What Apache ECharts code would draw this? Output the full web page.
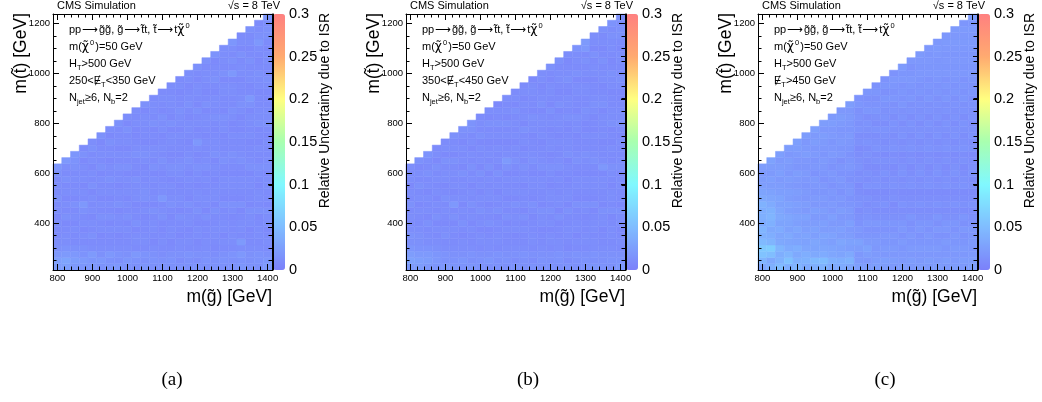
<!DOCTYPE html>
<html>
<head>
<meta charset="utf-8">
<title>ISR uncertainty</title>
<script src="https://cdn.jsdelivr.net/npm/echarts@6/dist/echarts.min.js"></script>
<style>
  html, body { margin: 0; padding: 0; background: #fff; }
  #chart { width: 1042px; height: 402px; }
</style>
</head>
<body>
<div id="chart"></div>
<script>
// Gluino mass bins (GeV), one per column
const mGluino = [800, 825, 850, 875, 900, 925, 950, 975, 1000, 1025, 1050, 1075, 1100,
  1125, 1150, 1175, 1200, 1225, 1250, 1275, 1300, 1325, 1350, 1375, 1400];
// Stop mass bins (GeV), bottom row first
const mStop = [225, 250, 275, 300, 325, 350, 375, 400, 425, 450, 475, 500, 525, 550, 575,
  600, 625, 650, 675, 700, 725, 750, 775, 800, 825, 850, 875, 900, 925, 950, 975, 1000,
  1025, 1050, 1075, 1100, 1125, 1150, 1175, 1200, 1225];

// Relative ISR uncertainty. One string per gluino column, read from the lowest stop
// mass upward; each character is a base-36 digit in units of 0.002 (spaces ignored).
const isrLowMET = [
  "cda76 55646 57565 79",
  "dfb86 65475 64657 56a",
  "bca75 56465 74656 5789",
  "9b875 64657 a5646 56475",
  "a9b65 75646 56475 64657 6",
  "8a765 46575 64656 47565 47",
  "98a65 56475 64657 56465 746",
  "a7865 46564 75646 57564 6557",
  "89765 56475 64656 47564 65746",
  "78a56 64755 46667 45576 54465 6",
  "97856 65546 47765 54676 45566 47",
  "78764 56657 46556 47566 45475 665",
  "87656 54476 5a665 46756 54667 4565",
  "78754 66545 76564 67545 66474 56656",
  "86766 45574 66545 67645 56466 75546 5",
  "77856 54665 74556 46765 45664 57654 66",
  "86754 66457 56645 67546 a5465 74566 457",
  "78766 55474 66556 47655 64566 47545 6657",
  "87645 66557 46654 56476 65457 56645 76548",
  "78756 46655 74566 45765 54667 45566 47566 6",
  "87856 65546 74566 45675 56446 75566 4a575 69",
  "98a6b 56654 74566 45765 56454 67655 46657 465",
  "87765 54667 45566 47655 46566 47a54 66575 4657",
  "78865 66547 56645 67556 45476 65546 67545 6a765",
  "a9756 54667 45566 47655 64576 65446 75566 45776 9"
];
const isrMidMET = [
  "bec97 86565 75646 56",
  "cdb87 76556 46575 647",
  "acb86 65746 56465 7568",
  "9a976 56475 64656 57465",
  "a8865 76456 57546 65746 5",
  "98765 56475 a6465 65746 57",
  "89766 45756 46565 74656 467",
  "97865 56465 75646 57564 6578",
  "88756 64657 56465 74656 47565",
  "79766 54756 46656 47565 46574 6",
  "87856 65647 56465 74656 46575 64",
  "78765 56475 64656 47b65 46574 656",
  "86765 46565 74656 45756 46565 7465",
  "77865 56474 65646 57564 65746 56465",
  "86756 65546 74566 45765 54667 45566 4",
  "78765 54667 45566 47655 46566 47654 66",
  "87756 64657 56645 67546 65465 74566 457",
  "78866 55474 66556 47655 64566 47545 6657",
  "86745 66557 46654 56476 65457 56645 76546",
  "77856 46655 74566 45765 54667 45566 47566 8",
  "88756 65546 74566 45675 56446 75566 46575 ab",
  "97866 56654 74566 45765 56454 67655 46657 466",
  "87765 54667 45566 4a655 46566 47654 66575 4657",
  "78765 66547 56645 67556 45476 65546 67545 66768",
  "a8756 54667 45566 47655 64576 65446 75566 45776 7"
];
const isrHighMET = [
  "gmsuo kmikj lhfdc bc",
  "khqwm jhkml igecd bce",
  "pljmh gifhg efdcb dcbd",
  "jrmig hefgd ecdbc abcac",
  "mkhjf egdec dbcab c9abc d",
  "iljge fdceb cab9a b9acb ac",
  "kohfg decbd ab9ab 8a9ba cbd",
  "lpige fcdbc ab9a8 9ab9a bcac",
  "hkgfd ecbda b9a89 a89ba 9bacb",
  "ijfeg cdbac 9a89a 897a9 ba9bc a",
  "glhde cbdab 98a97 8a989 ab9ab ac",
  "dbace 9a876 87657 68765 76878 798",
  "caceb 98a87 67586 75676 86786 9879",
  "dcbab 98a76 76587 65768 76867 98798",
  "cdab9 a8976 86576 86757 67868 78979 8",
  "bcab9 a8976 57687 65768 76786 87989 a8",
  "cba9b 8a976 86576 87657 68768 79898 a9b",
  "bcab9 a8796 76587 65768 76786 87989 a98a",
  "cbab9 8a976 86576 87657 68768 78798 9a9ab",
  "bcab9 a8976 76587 65768 76786 87989 8a9a9 a",
  "cbab9 8a796 86576 87657 68768 78798 9a99a ba",
  "bca9b 8a976 76587 65768 76786 87989 8a9a9 aba",
  "cbab9 a8976 86576 87657 68768 78798 9a9a9 abab",
  "bcab9 8a796 76587 65768 76786 87989 8a9a9 abab9",
  "dcbab 9a876 86576 87657 68768 78798 9a9a9 abab9 c"
];

// Tick labels
const xMajorTicks = [800, 900, 1000, 1100, 1200, 1300, 1400];
const yMajorTicks = [400, 600, 800, 1000, 1200];

// Selection texts for the three panels
const metSelections = ['{n|250<Ɇ}{b|T}{n|<350 GeV}', '{n|350<Ɇ}{b|T}{n|<450 GeV}', '{n|Ɇ}{b|T}{n|>450 GeV}'];
const captions = ['(a)', '(b)', '(c)'];
const panelColumns = [isrLowMET, isrMidMET, isrHighMET];

// ---- layout ----
const FONT = '"Liberation Sans", Arial, Helvetica, sans-serif';
const SERIF = '"Liberation Serif", "DejaVu Serif", serif';
const FRAME_TOP = 14, FRAME_W = 219, FRAME_H = 256, BAR_W = 12;
const panelLeft = [53, 406, 758];
const captionX = [172, 528, 885];
const PALETTE = ['#7c80fa', '#80bcff', '#80f8ff', '#a8ffb0', '#ffff80', '#ffaa70', '#ff8080'];

const BIN = mGluino[1] - mGluino[0];
const X_MIN = mGluino[0] - BIN / 2, X_MAX = mGluino[mGluino.length - 1] + BIN / 2;
const Y_MIN = mStop[0] - BIN / 2, Y_MAX = mStop[mStop.length - 1] + BIN / 2;

const xMinorTicks = [], yMinorTicks = [];
for (let v = 800; v <= 1400; v += 20) if (v % 100) xMinorTicks.push(v);
for (let v = 250; v <= 1200; v += 50) if (v % 200) yMinorTicks.push(v);

function decodeColumn(str) {
  return str.replace(/ /g, '').split('').map(c => parseInt(c, 36) * 0.002);
}
function cellsFor(columns) {
  const out = [];
  columns.forEach((col, i) => {
    decodeColumn(col).forEach((v, j) => out.push([mGluino[i], mStop[j], v]));
  });
  return out;
}

function renderCell(params, api) {
  const x = api.value(0), y = api.value(1);
  const a = api.coord([x - BIN / 2, y + BIN / 2]);
  const b = api.coord([x + BIN / 2, y - BIN / 2]);
  const color = api.visual('color');
  return {
    type: 'rect',
    shape: { x: a[0], y: a[1], width: b[0] - a[0], height: b[1] - a[1] },
    style: { fill: color, stroke: color, lineWidth: 0.5 }
  };
}

function tickAxis(gridIndex, position, min, max, values, length, withLine, withLabels) {
  return {
    type: 'value', gridIndex, position, min, max, z: 5,
    splitLine: { show: false },
    axisLine: { show: withLine, onZero: false, lineStyle: { color: '#000', width: 1 } },
    axisTick: { show: true, inside: true, length, customValues: values,
      lineStyle: { color: '#000', width: 1 } },
    axisLabel: withLabels ? {
      show: true, customValues: values, margin: 3, color: '#000',
      fontFamily: FONT, fontSize: 9.5, formatter: v => String(v)
    } : { show: false }
  };
}

const grids = [], xAxes = [], yAxes = [], series = [], visualMaps = [], graphics = [];
const rich = {
  n: { fontFamily: FONT, fontSize: 11, lineHeight: 16, color: '#000' },
  c: { fontFamily: '"DejaVu Sans", sans-serif', fontSize: 12.5, lineHeight: 16, color: '#000' },
  a: { fontFamily: '"DejaVu Sans", sans-serif', fontSize: 11, lineHeight: 16, color: '#000',
       padding: [0, 1, 0, 1] },
  p: { fontFamily: FONT, fontSize: 7.5, lineHeight: 8, verticalAlign: 'top', color: '#000',
       padding: [0, 1, 0, 1] },
  b: { fontFamily: FONT, fontSize: 7.5, lineHeight: 8, verticalAlign: 'bottom', color: '#000' }
};

panelLeft.forEach((left, p) => {
  grids.push({ left, top: FRAME_TOP, width: FRAME_W, height: FRAME_H });
  xAxes.push(tickAxis(p, 'bottom', X_MIN, X_MAX, xMajorTicks, 6, true, true));
  xAxes.push(tickAxis(p, 'bottom', X_MIN, X_MAX, xMinorTicks, 3.5, false, false));
  xAxes.push(tickAxis(p, 'top', X_MIN, X_MAX, xMajorTicks, 6, true, false));
  xAxes.push(tickAxis(p, 'top', X_MIN, X_MAX, xMinorTicks, 3.5, false, false));
  yAxes.push(tickAxis(p, 'left', Y_MIN, Y_MAX, yMajorTicks, 6, true, true));
  yAxes.push(tickAxis(p, 'left', Y_MIN, Y_MAX, yMinorTicks, 3.5, false, false));
  yAxes.push(tickAxis(p, 'right', Y_MIN, Y_MAX, yMajorTicks, 6, true, false));
  yAxes.push(tickAxis(p, 'right', Y_MIN, Y_MAX, yMinorTicks, 3.5, false, false));

  series.push({
    type: 'custom', coordinateSystem: 'cartesian2d',
    xAxisIndex: 4 * p, yAxisIndex: 4 * p,
    data: cellsFor(panelColumns[p]),
    encode: { x: 0, y: 1 },
    renderItem: renderCell, clip: false, silent: true, z: 2
  });

  visualMaps.push({
    type: 'continuous', seriesIndex: p, dimension: 2, min: 0, max: 0.3,
    inRange: { color: PALETTE }, orient: 'vertical',
    left: left + FRAME_W + 1, top: FRAME_TOP, itemWidth: BAR_W, itemHeight: FRAME_H,
    padding: 0, calculable: false, hoverLink: false, show: true
  });

  const right = left + FRAME_W;
  graphics.push(
    { type: 'text', x: left + 4, y: 5.5, style: { text: 'CMS Simulation', font: '11px ' + FONT,
      fill: '#000', textAlign: 'left', textVerticalAlign: 'middle' } },
    { type: 'text', x: left + 227, y: 5.5, style: { text: '√s = 8 TeV', font: '11px ' + FONT,
      fill: '#000', textAlign: 'right', textVerticalAlign: 'middle' } },
    { type: 'text', x: right, y: 297, style: { text: 'm(g\u0303) [GeV]', font: '17.5px ' + FONT,
      fill: '#000', textAlign: 'right', textVerticalAlign: 'middle' } },
    { type: 'text', x: left - 31.5, y: 13, rotation: Math.PI / 2, style: { text: 'm(t\u0303) [GeV]',
      font: '17.5px ' + FONT, fill: '#000', textAlign: 'right', textVerticalAlign: 'middle' } },
    { type: 'text', x: left + 272.5, y: 13, rotation: Math.PI / 2, style: {
      text: 'Relative Uncertainty due to ISR', font: '14px ' + FONT, fill: '#000',
      textAlign: 'right', textVerticalAlign: 'middle' } },
    { type: 'text', x: captionX[p], y: 380, style: { text: captions[p], font: '19px ' + SERIF,
      fill: '#000', textAlign: 'center', textVerticalAlign: 'middle' } }
  );
  const lines = [
    '{n|pp}{a|⟶}{n|g\u0303g\u0303, g\u0303}{a|⟶}{n|t\u0303t, t\u0303}{a|⟶}{n|t}{c|χ\u0303}{p|0}',
    '{n|m(}{c|χ\u0303}{p|0}{n|)=50 GeV}',
    '{n|H}{b|T}{n|>500 GeV}',
    metSelections[p],
    '{n|N}{b|jet}{n|≥6, N}{b|b}{n|=2}'
  ];
  const lineY = [30, 47, 63.5, 81, 98];
  lines.forEach((t, k) => graphics.push({
    type: 'text', x: left + 16, y: lineY[k], z: 10,
    style: { text: t, rich, textAlign: 'left', textVerticalAlign: 'middle' }
  }));
});

// colour-bar axes
panelLeft.forEach((left, p) => {
  grids.push({ left: left + FRAME_W + 1, top: FRAME_TOP, width: BAR_W, height: FRAME_H });
  xAxes.push({ type: 'value', gridIndex: 3 + p, min: 0, max: 1, show: false });
  yAxes.push({
    type: 'value', gridIndex: 3 + p, position: 'right', min: 0, max: 0.3, interval: 0.05, z: 10,
    splitLine: { show: false },
    axisLine: { show: true, lineStyle: { color: '#000', width: 1 } },
    axisTick: { show: true, inside: true, length: 5, lineStyle: { color: '#000', width: 1 } },
    axisLabel: { margin: 4, color: '#000', fontFamily: FONT, fontSize: 14.5,
      formatter: v => String(Math.round(v * 100) / 100) }
  });
});

const chart = echarts.init(document.getElementById('chart'));
chart.setOption({
  animation: false,
  backgroundColor: '#fff',
  grid: grids,
  xAxis: xAxes,
  yAxis: yAxes,
  visualMap: visualMaps,
  series,
  graphic: { elements: graphics }
});
</script>
</body>
</html>
